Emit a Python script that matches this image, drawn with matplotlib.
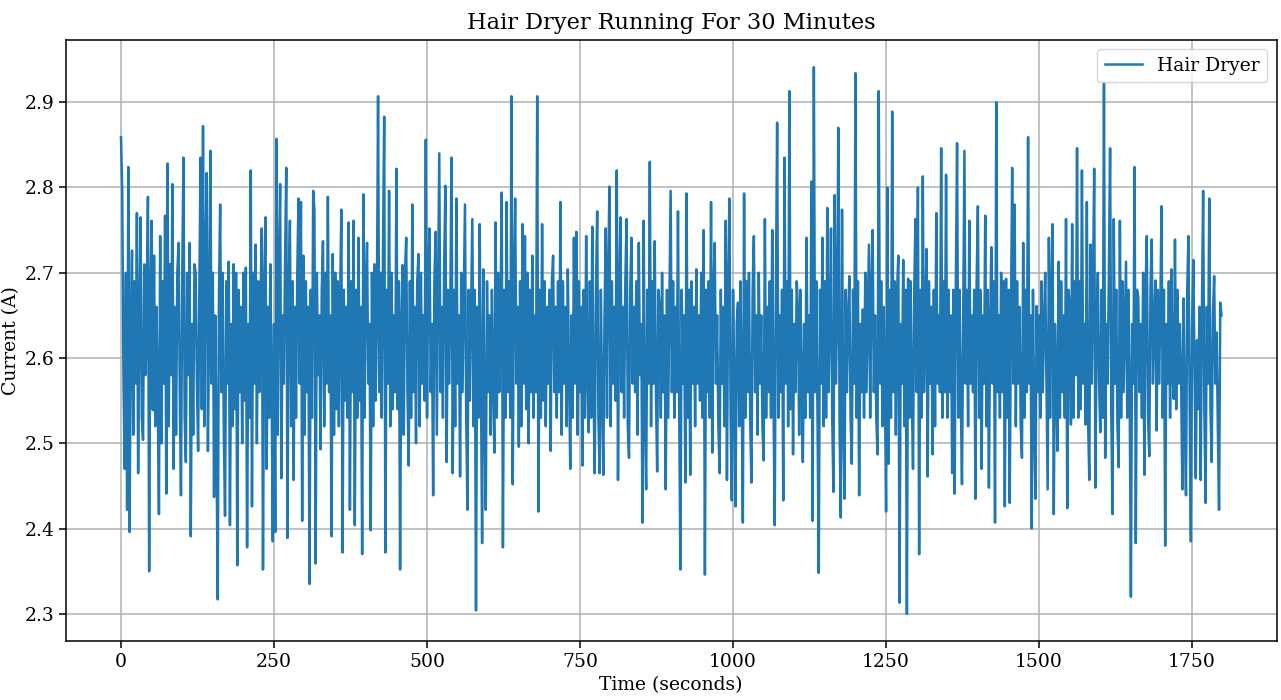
import matplotlib
matplotlib.use("Agg")
import matplotlib.pyplot as plt

plt.rcParams['font.family'] = ['DejaVu Serif']
plt.rcParams['font.size'] = 13.5

# current (A), one reading every 2 s, in 100 s blocks
step = 2
block_0000 = [2.859, 2.796, 2.58, 2.470, 2.70, 2.422, 2.824, 2.396, 2.64, 2.726,
              2.51, 2.69, 2.57, 2.770, 2.465, 2.65, 2.765, 2.53, 2.504, 2.71,
              2.58, 2.64, 2.789, 2.350, 2.68, 2.761, 2.539, 2.72, 2.52, 2.66,
              2.56, 2.417, 2.743, 2.50, 2.69, 2.57, 2.767, 2.441, 2.828, 2.52,
              2.71, 2.58, 2.804, 2.470, 2.66, 2.51, 2.70, 2.735, 2.56, 2.439]
block_0100 = [2.69, 2.835, 2.53, 2.478, 2.70, 2.58, 2.735, 2.391, 2.64, 2.51,
              2.71, 2.700, 2.57, 2.491, 2.68, 2.835, 2.54, 2.872, 2.52, 2.72,
              2.817, 2.491, 2.64, 2.843, 2.57, 2.70, 2.437, 2.65, 2.50, 2.317,
              2.67, 2.780, 2.56, 2.70, 2.51, 2.415, 2.69, 2.57, 2.713, 2.404,
              2.64, 2.52, 2.71, 2.54, 2.700, 2.357, 2.68, 2.56, 2.66, 2.50]
block_0200 = [2.70, 2.55, 2.706, 2.378, 2.64, 2.53, 2.820, 2.426, 2.70, 2.57,
              2.733, 2.50, 2.69, 2.56, 2.67, 2.752, 2.352, 2.68, 2.765, 2.470,
              2.66, 2.53, 2.71, 2.57, 2.385, 2.64, 2.396, 2.857, 2.51, 2.70,
              2.804, 2.459, 2.65, 2.57, 2.71, 2.823, 2.389, 2.68, 2.761, 2.52,
              2.69, 2.457, 2.66, 2.53, 2.70, 2.787, 2.57, 2.783, 2.409, 2.720]
block_0300 = [2.51, 2.69, 2.56, 2.66, 2.335, 2.68, 2.53, 2.796, 2.774, 2.359,
              2.70, 2.58, 2.65, 2.493, 2.68, 2.737, 2.52, 2.70, 2.57, 2.789,
              2.56, 2.65, 2.391, 2.722, 2.51, 2.70, 2.54, 2.69, 2.52, 2.67,
              2.774, 2.372, 2.68, 2.55, 2.66, 2.53, 2.759, 2.422, 2.69, 2.56,
              2.761, 2.404, 2.68, 2.53, 2.741, 2.55, 2.66, 2.370, 2.792, 2.53]
block_0400 = [2.69, 2.735, 2.57, 2.64, 2.398, 2.70, 2.52, 2.71, 2.55, 2.65,
              2.907, 2.56, 2.70, 2.53, 2.72, 2.883, 2.372, 2.68, 2.57, 2.796,
              2.52, 2.70, 2.54, 2.65, 2.56, 2.822, 2.54, 2.69, 2.352, 2.64,
              2.709, 2.51, 2.70, 2.741, 2.56, 2.474, 2.69, 2.53, 2.780, 2.56,
              2.66, 2.50, 2.69, 2.722, 2.52, 2.70, 2.57, 2.65, 2.55, 2.856]
block_0500 = [2.53, 2.70, 2.752, 2.56, 2.64, 2.439, 2.69, 2.748, 2.51, 2.68,
              2.840, 2.56, 2.66, 2.53, 2.71, 2.802, 2.478, 2.68, 2.57, 2.66,
              2.835, 2.465, 2.68, 2.52, 2.787, 2.57, 2.65, 2.461, 2.70, 2.56,
              2.67, 2.780, 2.53, 2.422, 2.68, 2.55, 2.66, 2.763, 2.52, 2.68,
              2.304, 2.66, 2.53, 2.757, 2.58, 2.383, 2.704, 2.53, 2.422, 2.69]
block_0600 = [2.56, 2.65, 2.51, 2.68, 2.57, 2.489, 2.759, 2.53, 2.70, 2.56,
              2.65, 2.794, 2.378, 2.68, 2.53, 2.783, 2.56, 2.69, 2.53, 2.907,
              2.452, 2.68, 2.787, 2.57, 2.66, 2.496, 2.69, 2.52, 2.757, 2.57,
              2.743, 2.54, 2.70, 2.500, 2.68, 2.56, 2.720, 2.53, 2.65, 2.56,
              2.907, 2.420, 2.68, 2.53, 2.757, 2.55, 2.69, 2.52, 2.66, 2.57]
block_0700 = [2.68, 2.491, 2.69, 2.720, 2.56, 2.66, 2.53, 2.69, 2.56, 2.783,
              2.51, 2.69, 2.57, 2.66, 2.52, 2.704, 2.58, 2.470, 2.65, 2.53,
              2.741, 2.57, 2.748, 2.51, 2.69, 2.56, 2.66, 2.474, 2.68, 2.53,
              2.743, 2.58, 2.513, 2.69, 2.53, 2.754, 2.56, 2.465, 2.68, 2.772,
              2.53, 2.465, 2.68, 2.56, 2.463, 2.65, 2.752, 2.53, 2.70, 2.801]
block_0800 = [2.52, 2.69, 2.57, 2.66, 2.55, 2.820, 2.457, 2.68, 2.765, 2.56,
              2.66, 2.53, 2.69, 2.763, 2.52, 2.483, 2.68, 2.741, 2.57, 2.66,
              2.56, 2.69, 2.51, 2.735, 2.58, 2.64, 2.407, 2.761, 2.53, 2.446,
              2.68, 2.57, 2.830, 2.52, 2.69, 2.57, 2.737, 2.56, 2.467, 2.68,
              2.661, 2.53, 2.70, 2.56, 2.65, 2.446, 2.68, 2.53, 2.66, 2.796]
block_0900 = [2.56, 2.69, 2.53, 2.66, 2.56, 2.772, 2.54, 2.352, 2.68, 2.57,
              2.65, 2.454, 2.793, 2.53, 2.68, 2.463, 2.69, 2.57, 2.66, 2.52,
              2.704, 2.57, 2.65, 2.55, 2.70, 2.53, 2.750, 2.346, 2.68, 2.56,
              2.69, 2.53, 2.783, 2.489, 2.68, 2.735, 2.57, 2.65, 2.52, 2.465,
              2.68, 2.57, 2.66, 2.52, 2.761, 2.457, 2.68, 2.787, 2.53, 2.433]
block_1000 = [2.68, 2.57, 2.426, 2.64, 2.665, 2.52, 2.69, 2.57, 2.407, 2.793,
              2.53, 2.69, 2.56, 2.700, 2.53, 2.454, 2.68, 2.743, 2.56, 2.65,
              2.51, 2.70, 2.57, 2.65, 2.52, 2.480, 2.763, 2.53, 2.66, 2.56,
              2.69, 2.53, 2.750, 2.56, 2.404, 2.68, 2.876, 2.53, 2.65, 2.56,
              2.68, 2.433, 2.835, 2.57, 2.69, 2.52, 2.913, 2.54, 2.68, 2.487]
block_1100 = [2.64, 2.56, 2.69, 2.657, 2.51, 2.68, 2.57, 2.478, 2.64, 2.53,
              2.741, 2.56, 2.65, 2.53, 2.807, 2.409, 2.941, 2.56, 2.69, 2.53,
              2.348, 2.68, 2.57, 2.741, 2.52, 2.69, 2.53, 2.776, 2.56, 2.64,
              2.752, 2.53, 2.443, 2.791, 2.57, 2.65, 2.870, 2.52, 2.413, 2.774,
              2.53, 2.435, 2.68, 2.56, 2.65, 2.696, 2.53, 2.476, 2.68, 2.57]
block_1200 = [2.934, 2.53, 2.69, 2.439, 2.64, 2.56, 2.657, 2.53, 2.70, 2.56,
              2.65, 2.733, 2.53, 2.68, 2.750, 2.56, 2.65, 2.53, 2.487, 2.913,
              2.57, 2.69, 2.52, 2.66, 2.57, 2.420, 2.800, 2.476, 2.68, 2.53,
              2.889, 2.56, 2.69, 2.51, 2.68, 2.720, 2.313, 2.64, 2.57, 2.715,
              2.52, 2.68, 2.300, 2.693, 2.53, 2.69, 2.56, 2.470, 2.68, 2.763]
block_1300 = [2.56, 2.800, 2.370, 2.68, 2.53, 2.813, 2.56, 2.64, 2.728, 2.461,
              2.69, 2.57, 2.66, 2.487, 2.68, 2.52, 2.770, 2.57, 2.65, 2.56,
              2.846, 2.53, 2.69, 2.56, 2.815, 2.53, 2.68, 2.56, 2.65, 2.465,
              2.68, 2.441, 2.69, 2.852, 2.53, 2.68, 2.56, 2.452, 2.65, 2.843,
              2.57, 2.68, 2.52, 2.761, 2.57, 2.65, 2.56, 2.68, 2.435, 2.69]
block_1400 = [2.778, 2.53, 2.68, 2.470, 2.65, 2.57, 2.767, 2.52, 2.68, 2.448,
              2.64, 2.730, 2.57, 2.69, 2.407, 2.900, 2.56, 2.65, 2.53, 2.70,
              2.56, 2.69, 2.426, 2.693, 2.53, 2.68, 2.430, 2.64, 2.823, 2.57,
              2.780, 2.52, 2.69, 2.57, 2.66, 2.52, 2.483, 2.735, 2.53, 2.68,
              2.56, 2.859, 2.57, 2.65, 2.400, 2.68, 2.53, 2.435, 2.661, 2.56]
block_1500 = [2.65, 2.53, 2.69, 2.56, 2.64, 2.70, 2.57, 2.446, 2.741, 2.53,
              2.68, 2.757, 2.417, 2.64, 2.57, 2.491, 2.713, 2.53, 2.69, 2.56,
              2.65, 2.53, 2.763, 2.424, 2.68, 2.66, 2.522, 2.757, 2.53, 2.69,
              2.58, 2.846, 2.53, 2.69, 2.54, 2.820, 2.57, 2.64, 2.522, 2.783,
              2.53, 2.457, 2.733, 2.57, 2.68, 2.822, 2.448, 2.64, 2.700, 2.57]
block_1600 = [2.513, 2.68, 2.53, 2.922, 2.483, 2.64, 2.57, 2.70, 2.846, 2.53,
              2.417, 2.763, 2.57, 2.68, 2.52, 2.472, 2.761, 2.53, 2.69, 2.56,
              2.64, 2.713, 2.53, 2.68, 2.56, 2.320, 2.64, 2.57, 2.824, 2.383,
              2.68, 2.672, 2.56, 2.64, 2.53, 2.70, 2.463, 2.68, 2.743, 2.53,
              2.485, 2.68, 2.739, 2.57, 2.64, 2.691, 2.515, 2.68, 2.57, 2.65]
block_1700 = [2.778, 2.53, 2.68, 2.380, 2.64, 2.57, 2.69, 2.53, 2.704, 2.58,
              2.552, 2.739, 2.54, 2.68, 2.57, 2.64, 2.58, 2.446, 2.67, 2.53,
              2.439, 2.68, 2.743, 2.54, 2.385, 2.64, 2.715, 2.58, 2.459, 2.621,
              2.54, 2.66, 2.457, 2.65, 2.796, 2.54, 2.430, 2.66, 2.57, 2.787,
              2.54, 2.478, 2.65, 2.696, 2.57, 2.63, 2.52, 2.422, 2.665, 2.650]

blocks = [block_0000, block_0100, block_0200, block_0300, block_0400, block_0500,
          block_0600, block_0700, block_0800, block_0900, block_1000, block_1100,
          block_1200, block_1300, block_1400, block_1500, block_1600, block_1700]

seconds = []
current = []
for k, blk in enumerate(blocks):
    for i, v in enumerate(blk):
        seconds.append(100 * k + step * i)
        current.append(v)

fig = plt.figure(figsize=(12.81, 7.0), dpi=100)
ax = fig.add_axes([0.0515, 0.084, 0.945, 0.859])
ax.plot(seconds, current, color='#1f77b4', linewidth=1.8, label='Hair Dryer')
ax.set_title('Hair Dryer Running For 30 Minutes', pad=8)
ax.set_xlabel('Time (seconds)', labelpad=4)
ax.set_ylabel('Current (A)', labelpad=3)
ax.set_xticks([0, 250, 500, 750, 1000, 1250, 1500, 1750])
ax.set_yticks([2.3, 2.4, 2.5, 2.6, 2.7, 2.8, 2.9])
ax.tick_params(length=5, width=1.1)
for s in ax.spines.values():
    s.set_linewidth(1.1)
ax.grid(True, color='#b0b0b0', linewidth=1.1)
ax.legend(loc='upper right')

fig.savefig('out.png', dpi=100)
